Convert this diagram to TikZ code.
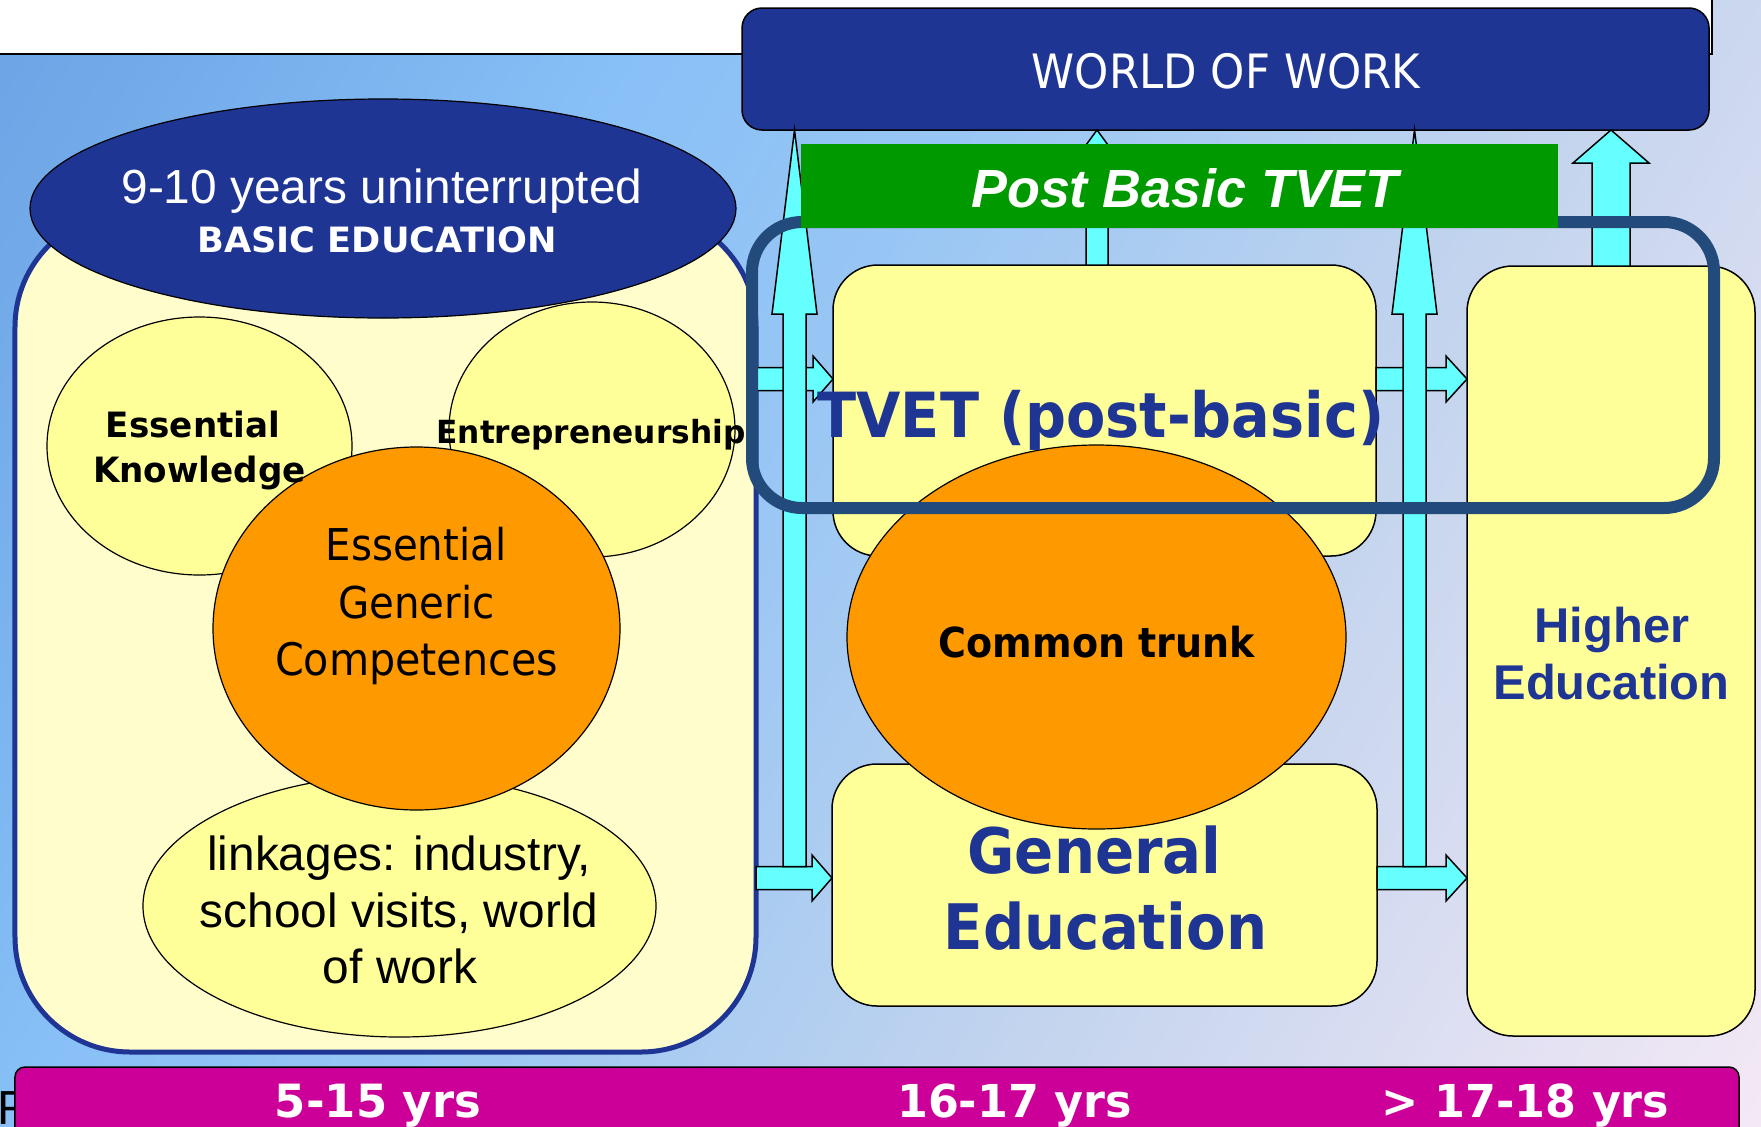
\documentclass[tikz,border=0pt]{standalone}
\usepackage{fontspec}
\setmainfont{Liberation Sans}
\newfontfamily\ari{Liberation Sans}
\newfontfamily\tah[FakeStretch=0.92]{DejaVu Sans}
\newfontfamily\tahw[FakeStretch=0.98]{DejaVu Sans}
\usetikzlibrary{calc,shapes.geometric}

\definecolor{navy}{HTML}{1F3594}
\definecolor{cream}{HTML}{FFFDCC}
\definecolor{paleyel}{HTML}{FFFF99}
\definecolor{orng}{HTML}{FF9900}
\definecolor{grn}{HTML}{009900}
\definecolor{aqua}{HTML}{66FFFF}
\definecolor{slateline}{HTML}{224A7B}
\definecolor{magent}{HTML}{CC0099}
\definecolor{bgA}{HTML}{6AA2E4}
\definecolor{bgB}{HTML}{88C0F7}
\definecolor{bgC}{HTML}{98C6F4}
\definecolor{bgD}{HTML}{C3D4EE}
\definecolor{bgE}{HTML}{F3E8F5}

\pgfdeclarehorizontalshading{bgshade}{100bp}{color(0bp)=(bgA); color(15bp)=(bgA); color(35bp)=(bgB); color(45bp)=(bgC); color(62bp)=(bgD); color(84bp)=(bgE); color(100bp)=(bgE)}

% block arrows: base point, tip point, shaft half width, head half width, head length
\newcommand\blockup[5]{\draw[barrow] ($(#1)+(-#3,0)$) -- ($(#2)+(-#3,#5)$) -- ($(#2)+(-#4,#5)$) -- (#2) -- ($(#2)+(#4,#5)$) -- ($(#2)+(#3,#5)$) -- ($(#1)+(#3,0)$) -- cycle;}
\newcommand\blockright[5]{\draw[barrow] ($(#1)+(0,-#3)$) -- ($(#2)+(-#5,-#3)$) -- ($(#2)+(-#5,-#4)$) -- (#2) -- ($(#2)+(-#5,#4)$) -- ($(#2)+(-#5,#3)$) -- ($(#1)+(0,#3)$) -- cycle;}

\tikzset{
  box/.style={rectangle, draw=black, line width=1.5bp, fill=paleyel, inner sep=0, outer sep=0, rounded corners=45bp},
  blob/.style={ellipse, draw=black, line width=1.2bp, inner sep=0, outer sep=0},
  barrow/.style={draw=black, line width=1.5bp, fill=aqua, line join=miter},
  lbl/.style={anchor=base, inner sep=0, outer sep=0},
}

\begin{document}
\begin{tikzpicture}[x=1bp,y=-1bp]
\useasboundingbox (0,0) rectangle (1761,1126);
\clip (0,0) rectangle (1761,1126);

% backdrop
\shade[shading=bgshade, shading angle=-30] (0,0) rectangle (1761,1126);
\fill[white] (0,0) rectangle (1712,54);
\draw[black, line width=2bp] (0,54) -- (1712,54) -- (1712,0);

% ---------- basic education ----------
\node[rectangle, draw=navy, line width=5bp, fill=cream, rounded corners=115bp,
      minimum width=741bp, minimum height=840bp, inner sep=0, outer sep=0] (basic) at (385.5,632) {};
\node[blob, fill=paleyel, minimum width=305bp, minimum height=258bp] (ek) at (199.5,446) {};
\node[blob, fill=paleyel, minimum width=286bp, minimum height=255bp] (entre) at (592,429.5) {};
\node[blob, fill=paleyel, minimum width=513bp, minimum height=262bp] (link) at (399.5,906) {};
\node[blob, fill=orng, minimum width=407bp, minimum height=363bp] (egc) at (416.5,628.5) {};
\node[blob, fill=navy, minimum width=706bp, minimum height=219bp] (bhead) at (383,208.5) {};

\node[lbl, font=\ari\fontsize{48}{57}\selectfont, text=white] (bheadA) at (382,203) {9-10 years uninterrupted};
\node[lbl, font=\tahw\bfseries\fontsize{35}{40}\selectfont, text=white] (bheadB) at (377,252) {\scalebox{1.03}[1]{BASIC EDUCATION}};

\node[lbl, font=\tahw\bfseries\fontsize{35}{40}\selectfont] (ekA) at (193,437) {Essential};
\node[lbl, font=\tahw\bfseries\fontsize{35}{40}\selectfont] (ekB) at (199.5,482) {Knowledge};
\node[lbl, font=\tahw\bfseries\fontsize{32}{40}\selectfont] (entreA) at (591,443) {Entrepreneurship};

\node[lbl, font=\tah\fontsize{44}{57}\selectfont] (egcA) at (416,560) {Essential};
\node[lbl, font=\tah\fontsize{44}{57}\selectfont] (egcB) at (416.5,618) {Generic};
\node[lbl, font=\tah\fontsize{45}{57}\selectfont] (egcC) at (416.5,675) {Competences};

\node[lbl, font=\ari\fontsize{48}{57}\selectfont] (linkA) at (399,870) {linkages: industry,};
\node[lbl, font=\ari\fontsize{48}{57}\selectfont] (linkB) at (399,927) {school visits, world};
\node[lbl, font=\ari\fontsize{48}{57}\selectfont] (linkC) at (400,983) {of work};

% ---------- world of work ----------
\node[rectangle, fill=navy, draw=black, line width=1.5bp, rounded corners=20bp,
      minimum width=967bp, minimum height=122bp, inner sep=0, outer sep=0] (wow) at (1225.5,69) {};
\node[lbl, font=\tah\fontsize{47.5}{50}\selectfont, text=white] (wowA) at (1226,88) {WORLD OF WORK};

% ---------- paths between stages ----------
\node[box, minimum width=543bp, minimum height=291bp] (tvet) at (1104.5,410.5) {};
\node[box, minimum width=545bp, minimum height=242bp] (gened) at (1104.5,885) {};
\node[box, rounded corners=46bp, minimum width=288bp, minimum height=770bp] (higher) at (1611,651) {};

\coordinate (rowA) at (0,379);
\coordinate (rowB) at (0,878);
\coordinate (colL) at (794.5,0);
\coordinate (colM) at (1097,0);
\coordinate (colR) at (1414.5,0);

\blockright{basic.east |- rowA}{tvet.west |- rowA}{11.5}{23}{20}
\blockright{basic.east |- rowB}{gened.west |- rowB}{11.5}{23}{20}
\blockright{tvet.east |- rowA}{higher.west |- rowA}{11.5}{23}{21}
\blockright{gened.east |- rowB}{higher.west |- rowB}{11.5}{23}{21}

\coordinate (vLb) at ($(colL |- rowB)+(0,-11.5)$);
\coordinate (vRb) at ($(colR |- rowB)+(0,-11.5)$);
\blockup{vLb}{colL |- wow.south}{11.5}{22.5}{184}
\blockup{vRb}{colR |- wow.south}{11.5}{22.5}{184}
\blockup{colM |- tvet.north}{colM |- wow.south}{11}{22}{30}
\blockup{higher.north}{higher.north |- wow.south}{19}{38}{33}

\node[blob, fill=orng, minimum width=499bp, minimum height=384bp] (trunk) at (1096.5,637) {};

\node[lbl, font=\tah\bfseries\fontsize{62.5}{70}\selectfont, text=navy] (tvetA) at (1101,437) {TVET (post-basic)};
\node[lbl, font=\tah\bfseries\fontsize{41.5}{50}\selectfont] (trunkA) at (1097,657) {Common trunk};
\node[lbl, font=\tah\bfseries\fontsize{63}{76}\selectfont, text=navy] (genA) at (1094.5,873) {General};
\node[lbl, font=\tah\bfseries\fontsize{63}{76}\selectfont, text=navy] (genB) at (1105.5,949) {Education};
\node[lbl, font=\ari\bfseries\fontsize{49}{57}\selectfont, text=navy] (higherA) at (1612,642) {Higher};
\node[lbl, font=\ari\bfseries\fontsize{49}{57}\selectfont, text=navy] (higherB) at (1611.5,699) {Education};

% post-basic TVET frame and banner
\node[rectangle, draw=slateline, line width=12bp, rounded corners=50bp,
      minimum width=962bp, minimum height=286bp, inner sep=0, outer sep=0] (focus) at (1233,365) {};
\node[rectangle, fill=grn, minimum width=757bp, minimum height=84bp, inner sep=0, outer sep=0] (pbt) at (1179.5,186) {};
\node[lbl, font=\ari\bfseries\itshape\fontsize{54}{60}\selectfont, text=white] (pbtA) at (1185,207) {Post Basic TVET};

% ---------- age bar ----------
\node[lbl, anchor=base west, font=\ari\fontsize{48}{57}\selectfont] (stray) at (-2,1124) {R};
\node[rectangle, fill=magent, draw=black, line width=1.5bp, rounded corners=10bp,
      minimum width=1724bp, minimum height=90bp, inner sep=0, outer sep=0] (ages) at (877,1112) {};
\node[lbl, font=\tahw\bfseries\fontsize{46}{50}\selectfont, text=white] (ageA) at (378,1117) {5-15 yrs};
\node[lbl, font=\tahw\bfseries\fontsize{45.5}{50}\selectfont, text=white] (ageB) at (1014.5,1117) {16-17 yrs};
\node[lbl, font=\tahw\bfseries\fontsize{45.5}{50}\selectfont, text=white] (ageC) at (1525.5,1117) {> 17-18 yrs};
\end{tikzpicture}
\end{document}
